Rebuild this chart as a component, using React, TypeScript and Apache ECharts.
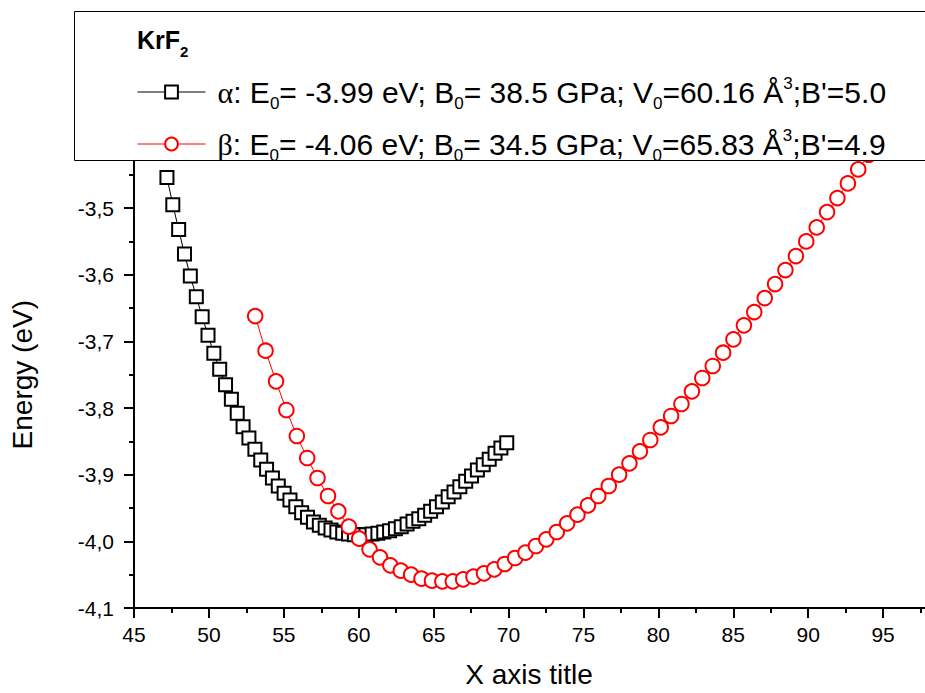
import React, { useEffect, useRef } from 'react';
import * as echarts from 'echarts';

const FONT = 'Liberation Sans';

// α phase: volume (x) and energy (eV)
const alphaX = [47.2, 47.59, 47.98, 48.37, 48.76, 49.16, 49.55, 49.94, 50.33, 50.72,
  51.11, 51.5, 51.89, 52.28, 52.67, 53.07, 53.46, 53.85, 54.24, 54.63,
  55.02, 55.41, 55.8, 56.19, 56.58, 56.98, 57.37, 57.76, 58.15, 58.54,
  58.93, 59.32, 59.71, 60.1, 60.49, 60.89, 61.28, 61.67, 62.06, 62.45,
  62.84, 63.23, 63.62, 64.01, 64.4, 64.8, 65.19, 65.58, 65.97, 66.36,
  66.75, 67.14, 67.53, 67.92, 68.31, 68.71, 69.1, 69.49, 69.88];
const alphaE = [-3.454, -3.495, -3.532, -3.569, -3.602, -3.633, -3.663, -3.691, -3.718, -3.742,
  -3.765, -3.787, -3.808, -3.828, -3.845, -3.862, -3.878, -3.892, -3.905, -3.917,
  -3.928, -3.938, -3.948, -3.957, -3.964, -3.971, -3.976, -3.98, -3.983, -3.986,
  -3.988, -3.989, -3.99, -3.99, -3.99, -3.989, -3.988, -3.986, -3.984, -3.981,
  -3.978, -3.974, -3.97, -3.966, -3.961, -3.955, -3.948, -3.941, -3.933, -3.926,
  -3.918, -3.91, -3.902, -3.893, -3.885, -3.877, -3.868, -3.86, -3.852];

// β phase
const betaX = [53.09, 53.78, 54.48, 55.17, 55.87, 56.56, 57.25, 57.95, 58.64, 59.34,
  60.03, 60.72, 61.42, 62.11, 62.81, 63.5, 64.19, 64.89, 65.58, 66.28,
  66.97, 67.66, 68.36, 69.05, 69.75, 70.44, 71.13, 71.83, 72.52, 73.22,
  73.91, 74.6, 75.3, 75.99, 76.69, 77.38, 78.07, 78.77, 79.46, 80.16,
  80.85, 81.54, 82.24, 82.93, 83.63, 84.32, 85.01, 85.71, 86.4, 87.1,
  87.79, 88.48, 89.18, 89.87, 90.57, 91.26, 91.95, 92.65, 93.34, 94.04];
const betaE = [-3.662, -3.714, -3.76, -3.803, -3.842, -3.875, -3.905, -3.932, -3.955, -3.978,
  -3.996, -4.012, -4.024, -4.036, -4.044, -4.05, -4.056, -4.059, -4.06, -4.06,
  -4.057, -4.053, -4.048, -4.042, -4.034, -4.025, -4.017, -4.007, -3.997, -3.986,
  -3.973, -3.96, -3.946, -3.932, -3.917, -3.9, -3.883, -3.865, -3.848, -3.829,
  -3.812, -3.794, -3.775, -3.755, -3.737, -3.717, -3.697, -3.676, -3.656, -3.635,
  -3.614, -3.593, -3.572, -3.55, -3.529, -3.506, -3.485, -3.463, -3.442, -3.42];

const seriesNames = ['α', 'β'];
const legendTexts: Record<string, string> = {
  'α': "{g|α}{n|: E}{sub|0}{n|= -3.99 eV; B}{sub|0}{n|= 38.5 GPa; V}{sub|0}{n|=60.16 Å}{sup|3}{n|;B'=5.0}",
  'β': "{g|β}{n|: E}{sub|0}{n|= -4.06 eV; B}{sub|0}{n|= 34.5 GPa; V}{sub|0}{n|=65.83 Å}{sup|3}{n|;B'=4.9}",
};
const compoundTitle = '{b|KrF}{s|2}';
const xTitle = 'X axis title';
const yTitle = 'Energy (eV)';

export default function App() {
  const ref = useRef<HTMLDivElement>(null);
  useEffect(() => {
    if (!ref.current) return;
    const chart = echarts.init(ref.current, undefined, { renderer: 'svg' });
    const axisCommon = {
      axisLine: { show: true, lineStyle: { color: '#000', width: 2 } },
      axisTick: { show: true, length: 10, lineStyle: { color: '#000', width: 2 } },
      minorTick: { show: true, splitNumber: 2, length: 5, lineStyle: { color: '#000', width: 2 } },
      splitLine: { show: false },
      minorSplitLine: { show: false },
    };
    chart.setOption({
      animation: false,
      backgroundColor: '#fff',
      grid: { left: 133, right: 0, top: 141.4, bottom: 84.7, containLabel: false },
      xAxis: {
        type: 'value', min: 45, max: 100, interval: 5,
        ...axisCommon,
        axisLabel: { fontSize: 21, fontFamily: FONT, color: '#000', margin: 16, showMaxLabel: false },
        name: xTitle, nameLocation: 'middle', nameGap: 52,
        nameTextStyle: { fontSize: 28, fontFamily: FONT, color: '#000', padding: [0, 34, 0, 0] },
      },
      yAxis: {
        type: 'value', min: -4.1, max: -3.4, interval: 0.1,
        ...axisCommon,
        axisLabel: {
          fontSize: 21, fontFamily: FONT, color: '#000', margin: 20, showMaxLabel: false,
          formatter: (v: number) => v.toFixed(1).replace('.', ','),
        },
        name: yTitle, nameLocation: 'middle', nameGap: 98,
        nameTextStyle: { fontSize: 28, fontFamily: FONT, color: '#000' },
      },
      legend: {
        data: seriesNames,
        orient: 'vertical', left: 137, top: 74.5, padding: 0,
        itemWidth: 68, itemHeight: 16, itemGap: 15,
        selectedMode: false, z: 6,
        lineStyle: { width: 1 },
        formatter: (name: string) => legendTexts[name],
        textStyle: {
          fontSize: 30, fontFamily: FONT, color: '#000',
          rich: {
            n: { fontSize: 30, fontFamily: FONT, color: '#000', lineHeight: 39 },
            g: { fontSize: 30, fontFamily: 'Liberation Serif', color: '#000', lineHeight: 39, padding: [0, 0, 0, 7] },
            sub: { fontSize: 17, fontFamily: FONT, color: '#000', verticalAlign: 'bottom' },
            sup: { fontSize: 17, fontFamily: FONT, color: '#000', verticalAlign: 'top', padding: [2, 0, 0, 0] },
          },
        },
      },
      graphic: {
        elements: [
          {
            type: 'rect', z: 5, silent: true,
            shape: { x: 74.5, y: 11.5, width: 900, height: 149 },
            style: { fill: '#fff', stroke: '#000', lineWidth: 1 },
          },
          {
            type: 'text', z: 7, x: 137, y: 40, silent: true,
            style: {
              text: compoundTitle, verticalAlign: 'middle', align: 'left',
              rich: {
                b: { fontSize: 25, fontWeight: 'bold', fontFamily: FONT, fill: '#000', lineHeight: 38 },
                s: { fontSize: 15, fontWeight: 'bold', fontFamily: FONT, fill: '#000', verticalAlign: 'bottom' },
              },
            },
          },
        ],
      },
      series: [
        {
          type: 'line', name: seriesNames[0], z: 2,
          data: alphaX.map((x, i) => [x, alphaE[i]]),
          symbol: 'rect', symbolSize: 13,
          itemStyle: { color: '#fff', borderColor: '#000', borderWidth: 2 },
          lineStyle: { color: '#000', width: 1 },
          emphasis: { disabled: true },
        },
        {
          type: 'line', name: seriesNames[1], z: 3,
          data: betaX.map((x, i) => [x, betaE[i]]),
          symbol: 'circle', symbolSize: 14.5,
          itemStyle: { color: '#fff', borderColor: '#ff0000', borderWidth: 2 },
          lineStyle: { color: '#ff0000', width: 1 },
          emphasis: { disabled: true },
        },
      ],
    });
    return () => chart.dispose();
  }, []);
  return <div ref={ref} style={{ position: 'fixed', left: 0, top: 0, width: 958, height: 693 }} />;
}
